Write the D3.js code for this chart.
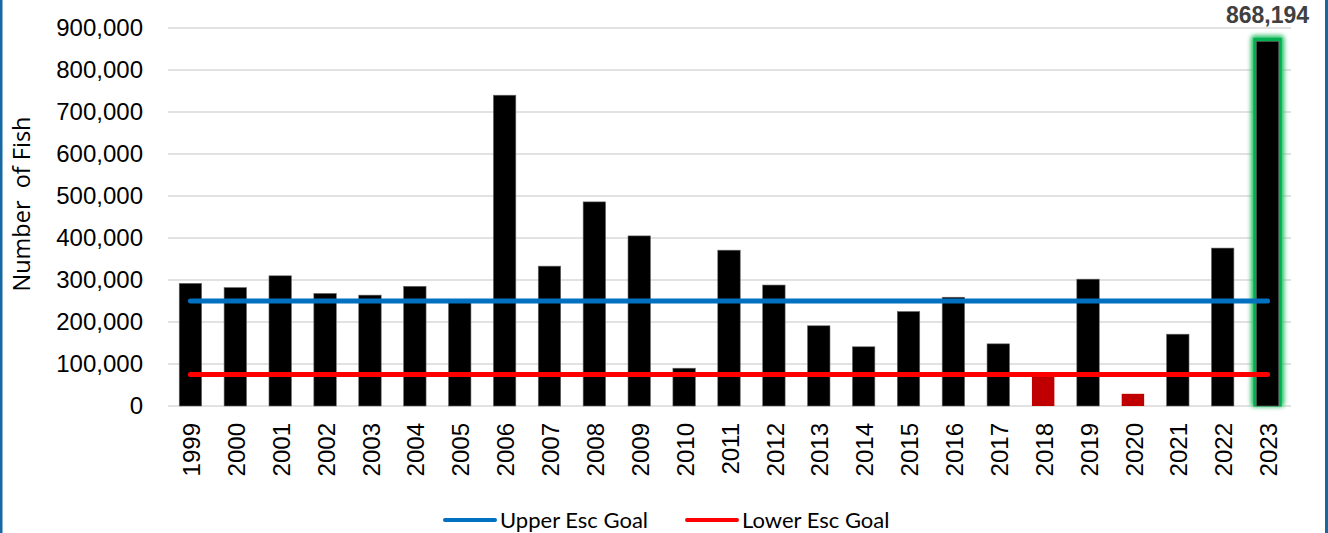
<!DOCTYPE html>
<html><head><meta charset="utf-8">
<script src="https://cdn.jsdelivr.net/npm/d3@7"></script>
<style>
html,body{margin:0;padding:0;background:#fff;}
svg{display:block;}
</style></head>
<body>
<svg id="chart" width="1328" height="533"></svg>
<script>
const years = ["1999","2000","2001","2002","2003","2004","2005","2006","2007","2008","2009","2010","2011","2012","2013","2014","2015","2016","2017","2018","2019","2020","2021","2022","2023"];
const escapement = [292000,282000,310000,268000,264000,285000,247000,740000,333000,486000,405000,90000,371000,288000,191000,141000,225000,259000,148000,72000,302000,29000,171000,376000,868194];
const upperGoal = 250000;
const lowerGoal = 75000;
const yTicks = [0,100000,200000,300000,400000,500000,600000,700000,800000,900000];
const highlightYear = "2023";
const legendItems = ["Upper Esc Goal","Lower Esc Goal"];

(function(){
const svg = d3.select("#chart");
const pLeft = 168, pRight = 1290, pTop = 28, pBottom = 406;

const x = d3.scaleBand().domain(years).range([pLeft, pRight]).paddingInner(0.5).paddingOuter(0.25);
const y = d3.scaleLinear().domain([0, 900000]).range([pBottom, pTop]);

const defs = svg.append("defs");
const f = defs.append("filter").attr("id","glow").attr("x","-50%").attr("y","-50%").attr("width","200%").attr("height","200%");
f.append("feGaussianBlur").attr("stdDeviation", 2.2);

// frame edges
svg.append("rect").attr("x",0).attr("y",0).attr("width",2.5).attr("height",533).attr("fill","#1769a3");
svg.append("rect").attr("x",1325).attr("y",0).attr("width",3).attr("height",533).attr("fill","#1769a3");

// gridlines
svg.append("g").selectAll("line").data(yTicks).join("line")
  .attr("x1", pLeft).attr("x2", pRight + 1)
  .attr("y1", d => y(d)).attr("y2", d => y(d))
  .attr("stroke", "#d9d9d9").attr("stroke-width", 1.5);

// y axis
const yAxis = svg.append("g").attr("transform", `translate(${pLeft},0)`)
  .call(d3.axisLeft(y).tickValues(yTicks).tickFormat(d3.format(",")).tickSize(0).tickPadding(25));
yAxis.select(".domain").remove();
yAxis.selectAll("text").attr("font-family","Liberation Sans, Arial, sans-serif").attr("font-size", 24).attr("fill","#000");

// x axis
const xAxis = svg.append("g").attr("transform", `translate(0,${pBottom})`)
  .call(d3.axisBottom(x).tickSize(0));
xAxis.select(".domain").remove();
xAxis.selectAll("text")
  .attr("font-family","Liberation Sans, Arial, sans-serif").attr("font-size", 24).attr("fill","#000")
  .attr("transform","rotate(-90)").attr("text-anchor","end")
  .attr("x", -17).attr("y", 1).attr("dy", "0.36em");

// highlight glow for latest year
const hx = x(highlightYear), hv = escapement[years.indexOf(highlightYear)];
svg.append("rect")
  .attr("x", hx - 5.5).attr("y", y(hv) - 6).attr("width", x.bandwidth() + 11).attr("height", pBottom - y(hv) + 7)
  .attr("rx", 4).attr("fill", "#2ec26a").attr("filter","url(#glow)");
svg.append("rect")
  .attr("x", hx - 3).attr("y", y(hv) - 3.5).attr("width", x.bandwidth() + 6).attr("height", pBottom - y(hv) + 4)
  .attr("fill", "#00b050");

// bars
svg.append("g").selectAll("rect").data(years).join("rect")
  .attr("x", d => x(d)).attr("width", x.bandwidth())
  .attr("y", (d,i) => y(escapement[i])).attr("height", (d,i) => pBottom - y(escapement[i]))
  .attr("fill", (d,i) => escapement[i] < lowerGoal ? "#c00000" : "#000")
  .attr("stroke", (d,i) => escapement[i] < lowerGoal ? "none" : "#6b6b6b").attr("stroke-width", 0.6);

// goal lines
const x0 = x(years[0]) + x.bandwidth()/2, x1 = x(years[years.length-1]) + x.bandwidth()/2;
svg.append("line").attr("x1", x0).attr("x2", x1).attr("y1", y(upperGoal)).attr("y2", y(upperGoal))
  .attr("stroke", "#0070c0").attr("stroke-width", 5).attr("stroke-linecap","round");
svg.append("line").attr("x1", x0).attr("x2", x1).attr("y1", y(lowerGoal)).attr("y2", y(lowerGoal))
  .attr("stroke", "#ff0000").attr("stroke-width", 5).attr("stroke-linecap","round");

// data label
svg.append("text").attr("x", hx + x.bandwidth()/2).attr("y", 23)
  .attr("text-anchor","middle").attr("font-family","Liberation Sans, Arial, sans-serif")
  .attr("font-weight","bold").attr("font-size", 23).attr("fill","#404040")
  .text(d3.format(",")(hv));

// y title
svg.append("text").attr("transform", "translate(30,204) rotate(-90)")
  .attr("text-anchor","middle").attr("font-family","Open Sans, sans-serif").attr("font-size", 23.5).attr("fill","#000")
  .attr("xml:space","preserve").style("white-space","pre")
  .text("Number  of Fish");

// legend
const legendColors = ["#0070c0", "#ff0000"];
const legendX = [445, 687];
const lg = svg.append("g");
legendItems.forEach((name, i) => {
  lg.append("line").attr("x1", legendX[i]).attr("x2", legendX[i] + 50).attr("y1", 520).attr("y2", 520)
    .attr("stroke", legendColors[i]).attr("stroke-width", 4).attr("stroke-linecap","round");
  lg.append("text").attr("x", legendX[i] + 55).attr("y", 520).attr("dy","0.35em")
    .attr("font-family","Lato, sans-serif").attr("font-size", 22).attr("fill","#000").text(name);
});
})();
</script>
</body></html>
